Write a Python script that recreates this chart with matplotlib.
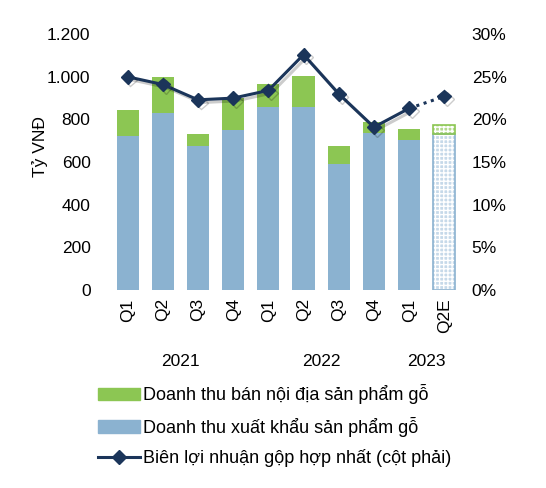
import matplotlib.pyplot as plt
import matplotlib.patheffects as pe
from matplotlib.patches import Patch
from matplotlib.lines import Line2D
import matplotlib.transforms as mtransforms

plt.rcParams['font.family'] = ['Liberation Sans', 'DejaVu Sans']

# dữ liệu
quy = ['Q1', 'Q2', 'Q3', 'Q4', 'Q1', 'Q2', 'Q3', 'Q4', 'Q1', 'Q2E']
nam = ['2021', '2022', '2023']
vi_tri_nam = [1.5, 5.5, 8.5]
xuat_khau = [723, 830, 675, 752, 858, 858, 591, 737, 705, 734]
noi_dia = [121, 168, 56, 148, 106, 148, 84, 52, 48, 39]
bien_ln = [25.0, 24.1, 22.3, 22.5, 23.4, 27.6, 23.0, 19.1, 21.3, 22.7]

xanh_la = '#8cc653'
xanh_duong = '#8bb2d0'
xanh_dam = '#1b355a'
co_chu = 12.5

fig = plt.figure(figsize=(5.46, 4.88), dpi=100)
ax = fig.add_axes([0.2015, 0.4057, 0.6445, 0.5243])
ax2 = ax.twinx()

x = list(range(len(quy)))
rong = 0.63

# cột thực tế
ax.bar(x[:-1], xuat_khau[:-1], width=rong, color=xanh_duong, zorder=2)
ax.bar(x[:-1], noi_dia[:-1], bottom=xuat_khau[:-1], width=rong, color=xanh_la, zorder=2)

# cột ước tính (gạch chéo)
ax.bar(x[-1], xuat_khau[-1], width=rong, color='#c6d9e9', hatch='++++',
       edgecolor='white', linewidth=0, zorder=2)
ax.bar(x[-1], xuat_khau[-1], width=rong, facecolor='none',
       edgecolor=xanh_duong, linewidth=1.2, zorder=3)
ax.bar(x[-1], noi_dia[-1], bottom=xuat_khau[-1], width=rong, color='#b3d98c',
       hatch='++++', edgecolor='white', linewidth=0, zorder=2)
ax.bar(x[-1], noi_dia[-1], bottom=xuat_khau[-1], width=rong, facecolor='none',
       edgecolor=xanh_la, linewidth=1.2, zorder=3)

ax.set_ylim(0, 1200)
ax.set_yticks(range(0, 1201, 200))
ax.set_yticklabels(['0', '200', '400', '600', '800', '1.000', '1.200'])
ax.set_xlim(-0.5, len(quy) - 0.5)
ax.set_xticks(x)
ax.set_xticklabels(quy, rotation=90)
ax.set_ylabel('Tỷ VNĐ', fontsize=co_chu)
ax.yaxis.set_label_coords(-0.175, 0.56)

# đường biên lợi nhuận
bong = [pe.SimpleLineShadow(offset=(2, -2), alpha=0.2), pe.Normal()]
ax2.plot(x[:-1], bien_ln[:-1], color=xanh_dam, linewidth=2.2, marker='D',
         markersize=7, zorder=4, path_effects=bong)
ax2.plot(x[-2:], bien_ln[-2:], color=xanh_dam, linewidth=2.2, linestyle=(0, (1, 1.5)),
         zorder=4)
ax2.plot(x[-1], bien_ln[-1], color=xanh_dam, marker='D', markersize=7, zorder=4,
         path_effects=bong)
ax2.set_ylim(0, 30)
ax2.set_yticks(range(0, 31, 5))
ax2.set_yticklabels([f'{v}%' for v in range(0, 31, 5)])

for a in (ax, ax2):
    for s in a.spines.values():
        s.set_visible(False)
    a.tick_params(length=0, labelsize=co_chu, colors='black')
ax.tick_params(axis='y', pad=14)
ax.tick_params(axis='x', pad=6)
ax2.tick_params(axis='y', pad=7)

trans = mtransforms.blended_transform_factory(ax.transData, ax.transAxes)
for ten, vt in zip(nam, vi_tri_nam):
    ax.text(vt, -0.28, ten, transform=trans, ha='center', va='center', fontsize=co_chu)

handles = [
    Patch(color=xanh_la),
    Patch(color=xanh_duong),
    Line2D([], [], color=xanh_dam, linewidth=2.2, marker='D', markersize=7),
]
labels = ['Doanh thu bán nội địa sản phẩm gỗ',
          'Doanh thu xuất khẩu sản phẩm gỗ',
          'Biên lợi nhuận gộp hợp nhất (cột phải)']
fig.legend(handles, labels, loc='upper left', bbox_to_anchor=(0.163, 0.231),
           frameon=False, fontsize=13, handlelength=2.3, handleheight=0.7,
           handletextpad=0.2, labelspacing=0.68, borderpad=0)

fig.savefig('out.png', dpi=100)
